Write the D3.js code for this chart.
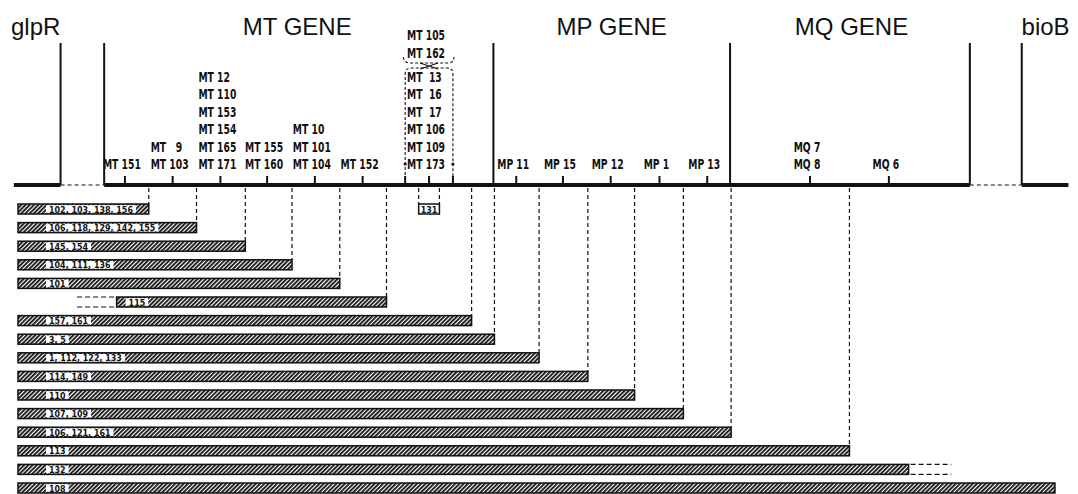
<!DOCTYPE html>
<html lang="en">
<head>
<meta charset="UTF-8">
<title>Deletion map, glpR to bioB</title>
<script src="https://d3js.org/d3.v7.min.js"></script>
<style>
  body { margin: 0; background: #fff; }
  svg text { white-space: pre; fill: #111; }
  .title { font-family: "Liberation Sans", Arial, sans-serif; font-size: 24px; }
  .site { font-family: "DejaVu Sans", sans-serif; font-size: 14.5px; font-weight: bold; }
  .del { font-family: "DejaVu Sans", sans-serif; font-size: 9.5px; font-weight: bold; }
</style>
</head>
<body>
<svg id="map" width="1078" height="494"></svg>
<script>
// map units: 0 = left end of the deletion bars, 100 = right end
const genes = ["glpR", "MT GENE", "MP GENE", "MQ GENE", "bioB"];
const geneCentres = [1.7, 26.9, 57.2, 80.3, 99.0];
const geneBounds = [4.1, 8.3, 45.8, 68.6, 91.7, 96.7];
const chromSolid = [[-0.4, 4.1], [8.3, 91.7], [96.7, 101.2]];
const chromDashed = [[4.1, 8.3], [91.7, 96.7]];

const sitePos = [10.3, 14.9, 19.5, 24.0, 28.6, 33.2, 39.6, 48.0, 52.5, 57.1, 61.8, 66.4, 76.3, 83.9];
const siteNames = [
  ["MT 151"],
  ["MT   9", "MT 103"],
  ["MT 12", "MT 110", "MT 153", "MT 154", "MT 165", "MT 171"],
  ["MT 155", "MT 160"],
  ["MT 10", "MT 101", "MT 104"],
  ["MT 152"],
  ["MT  13", "MT  16", "MT  17", "MT 106", "MT 109", "MT 173"],
  ["MP 11"], ["MP 15"], ["MP 12"], ["MP 1"], ["MP 13"],
  ["MQ 7", "MQ 8"], ["MQ 6"]
];
// sites that could not be ordered against the boxed group
const looseNames = ["MT 105", "MT 162"];
const boxEdges = [37.3, 41.9];

const delNames = ["102, 103, 138, 156", "106, 118, 129, 142, 155", "145, 154", "104, 111, 136",
  "101", "115", "157, 161", "3, 5", "1, 112, 122, 133", "114, 149", "110", "107, 109",
  "106, 121, 161", "113", "132", "108"];
const delStart = [0, 0, 0, 0, 0, 9.5, 0, 0, 0, 0, 0, 0, 0, 0, 0, 0];
const delEnd = [12.6, 17.2, 21.9, 26.4, 31.0, 35.5, 43.7, 45.9, 50.2, 54.9, 59.4, 64.1, 68.7, 80.1, 85.8, 99.9];
// uncertain ends, drawn dashed
const delOpenLeft = [null, null, null, null, null, 5.5, null, null, null, null, null, null, null, null, null, null];
const delOpenRight = [null, null, null, null, null, null, null, null, null, null, null, null, null, null, 90.1, null];

const pointDel = { name: "131", from: 38.6, to: 40.6 };

const x = d3.scaleLinear().domain([0, 100]).range([18, 1056]);
const y = d3.scalePoint().domain(d3.range(delNames.length)).range([209, 488]);
const lineY = 185, barH = 10, rowGap = 17.4;

const svg = d3.select("#map");

// the lettering on the original is narrow; squeeze the fonts to its widths
function squeeze(cls, sample, target) {
  const t = svg.append("text").attr("class", cls).text(sample);
  const s = target / t.node().getComputedTextLength();
  t.remove();
  return s;
}
const siteSx = squeeze("site", "MT 171", 38);
const delSx = squeeze("del", "102, 103, 138, 156", 84);

const defs = svg.append("defs");
defs.append("pattern")
  .attr("id", "hatch")
  .attr("patternUnits", "userSpaceOnUse")
  .attr("width", 3).attr("height", 3)
  .attr("patternTransform", "rotate(45)")
  .append("rect")
  .attr("width", 1.8).attr("height", 3)
  .attr("fill", "#111");

// gene titles
svg.selectAll(".title")
  .data(genes)
  .join("text")
  .attr("class", "title")
  .attr("x", (d, i) => x(geneCentres[i]))
  .attr("y", 35)
  .attr("text-anchor", "middle")
  .text(d => d);

// gene boundaries
svg.selectAll(".bound")
  .data(geneBounds)
  .join("line")
  .attr("class", "bound")
  .attr("x1", d => x(d)).attr("x2", d => x(d))
  .attr("y1", 43).attr("y2", lineY)
  .attr("stroke", "#111").attr("stroke-width", 2);

// chromosome
svg.selectAll(".chrom")
  .data(chromSolid)
  .join("line")
  .attr("class", "chrom")
  .attr("x1", d => x(d[0])).attr("x2", d => x(d[1]))
  .attr("y1", lineY).attr("y2", lineY)
  .attr("stroke", "#111").attr("stroke-width", 4);

svg.selectAll(".gap")
  .data(chromDashed)
  .join("line")
  .attr("class", "gap")
  .attr("x1", d => x(d[0])).attr("x2", d => x(d[1]))
  .attr("y1", lineY).attr("y2", lineY)
  .attr("stroke", "#111").attr("stroke-width", 1.2)
  .attr("stroke-dasharray", "4,3");

// site ticks
svg.selectAll(".tick")
  .data(sitePos.concat(boxEdges))
  .join("line")
  .attr("class", "tick")
  .attr("x1", d => x(d)).attr("x2", d => x(d))
  .attr("y1", lineY).attr("y2", lineY - 9)
  .attr("stroke", "#111").attr("stroke-width", 2);

// site labels, left aligned within each group
sitePos.forEach((p, i) => {
  const names = siteNames[i];
  const g = svg.append("g");
  const t = g.selectAll("text")
    .data(names)
    .join("text")
    .attr("class", "site")
    .attr("x", 0)
    .attr("y", (d, k) => 169 - (names.length - 1 - k) * rowGap)
    .text(d => d);
  const w = d3.max(t.nodes(), n => n.getComputedTextLength()) * siteSx;
  g.attr("transform", `translate(${x(p) - 3 - w / 2},0) scale(${siteSx},1)`);
});

// loose sites above the dashed box
svg.selectAll(".loose")
  .data(looseNames)
  .join("text")
  .attr("class", "site")
  .attr("text-anchor", "middle")
  .attr("transform", (d, i) => `translate(${x(sitePos[6]) - 3},${40 + i * 18}) scale(${siteSx},1)`)
  .text(d => d);

const bx0 = x(boxEdges[0]), bx1 = x(boxEdges[1]), bxm = (bx0 + bx1) / 2;
svg.append("path")
  .attr("d", `M${bx0},${lineY} L${bx0},74 Q${bx0},68 ${bx0 + 6},68 L${bx1 - 6},68 Q${bx1},68 ${bx1},74 L${bx1},${lineY}`)
  .attr("fill", "none").attr("stroke", "#111").attr("stroke-width", 1.1)
  .attr("stroke-dasharray", "3,2");
svg.append("path")
  .attr("d", `M${bx0 - 2},57 Q${bx0 - 1},63 ${bx0 + 5},63 L${bx1 - 5},63 Q${bx1 + 1},63 ${bx1 + 1},57`)
  .attr("fill", "none").attr("stroke", "#111").attr("stroke-width", 1.1)
  .attr("stroke-dasharray", "3,2");
svg.append("path")
  .attr("d", `M${bxm - 9},63 L${bxm + 9},69 M${bxm + 9},63 L${bxm - 9},69`)
  .attr("fill", "none").attr("stroke", "#111").attr("stroke-width", 1.1);
svg.selectAll(".dot")
  .data(boxEdges)
  .join("circle")
  .attr("cx", d => x(d)).attr("cy", 164).attr("r", 1.6)
  .attr("fill", "#111");

// dashed drops from the map to each deletion end point
const drops = delEnd.map((e, i) => ({ e, i }))
  .filter(d => delOpenRight[d.i] === null && d.e < geneBounds[4]);
svg.selectAll(".drop")
  .data(drops)
  .join("line")
  .attr("class", "drop")
  .attr("x1", d => x(d.e)).attr("x2", d => x(d.e))
  .attr("y1", lineY + 3).attr("y2", d => y(d.i) - barH / 2)
  .attr("stroke", "#111").attr("stroke-width", 1.2)
  .attr("stroke-dasharray", "4,3");

// small deletion 131
svg.selectAll(".pdrop")
  .data([pointDel.from, pointDel.to])
  .join("line")
  .attr("x1", d => x(d)).attr("x2", d => x(d))
  .attr("y1", lineY + 3).attr("y2", y(0) - barH / 2)
  .attr("stroke", "#111").attr("stroke-width", 1.2)
  .attr("stroke-dasharray", "4,3");
svg.append("rect")
  .attr("x", x(pointDel.from)).attr("y", y(0) - barH / 2)
  .attr("width", x(pointDel.to) - x(pointDel.from)).attr("height", barH)
  .attr("fill", "#fff").attr("stroke", "#111").attr("stroke-width", 1.5);
svg.append("text")
  .attr("class", "del")
  .attr("text-anchor", "middle")
  .attr("transform", `translate(${(x(pointDel.from) + x(pointDel.to)) / 2},${y(0) + 3.5}) scale(${delSx},1)`)
  .text(pointDel.name);

// deletion bars
delNames.forEach((name, i) => {
  const g = svg.append("g");
  const x0 = x(delStart[i]), x1 = x(delEnd[i]), top = y(i) - barH / 2;
  g.append("rect")
    .attr("x", x0).attr("y", top)
    .attr("width", x1 - x0).attr("height", barH)
    .attr("fill", "url(#hatch)")
    .attr("stroke", "#111").attr("stroke-width", 1.5);
  const tx = x0 + (delStart[i] === 0 ? 31 : 12);
  const bg = g.append("rect");
  const t = g.append("text")
    .attr("class", "del")
    .attr("transform", `translate(${tx},${y(i) + 3.5}) scale(${delSx},1)`)
    .text(name);
  const len = t.node().getComputedTextLength() * delSx;
  bg.attr("x", tx - 3).attr("y", top + 1.2)
    .attr("width", len + 6).attr("height", barH - 2.4)
    .attr("fill", "#fff");
  const open = [];
  if (delOpenLeft[i] !== null) open.push([delOpenLeft[i], delStart[i]]);
  if (delOpenRight[i] !== null) open.push([delEnd[i], delOpenRight[i]]);
  open.forEach(s => {
    [top, top + barH].forEach(yy => {
      g.append("line")
        .attr("x1", x(s[0]) + 2).attr("x2", x(s[1]) - 2)
        .attr("y1", yy).attr("y2", yy)
        .attr("stroke", "#111").attr("stroke-width", 1.2)
        .attr("stroke-dasharray", "5,3");
    });
  });
});
</script>
</body>
</html>
